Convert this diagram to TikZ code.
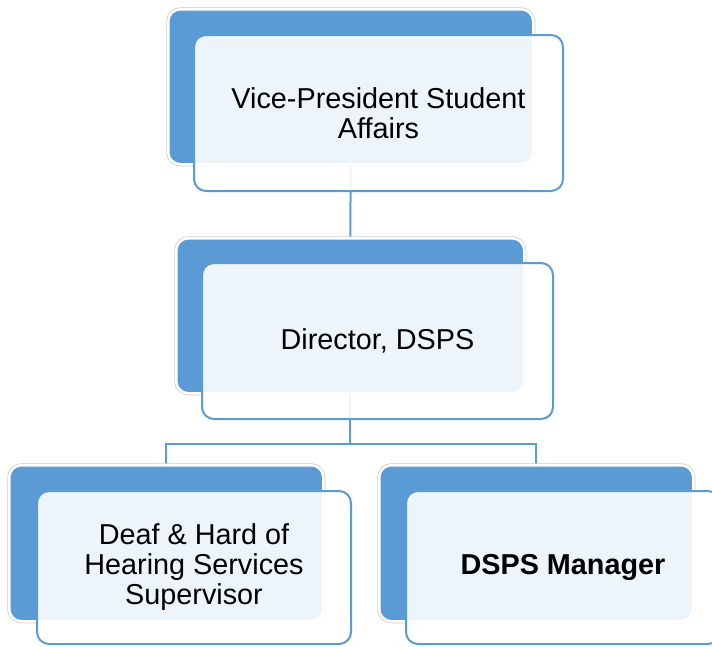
\documentclass[tikz,border=0pt]{standalone}
\usepackage{fontspec}
\setmainfont{Liberation Sans}
\usetikzlibrary{backgrounds}
\definecolor{boxblue}{RGB}{91,155,213}
\begin{document}
\begin{tikzpicture}[x=1pt,y=-1pt,
    backbox/.style={rectangle,rounded corners=12pt,anchor=north west,inner sep=0pt,
      fill=boxblue,preaction={draw=black!20,line width=4pt},draw=white,line width=2.5pt},
    frontbox/.style={rectangle,rounded corners=12pt,anchor=north west,inner sep=0pt,
      fill=white,fill opacity=0.9,text opacity=1,draw=boxblue,line width=2pt,
      align=center,font=\fontsize{28.8}{30}\selectfont},
    link/.style={draw=boxblue,line width=2pt}]
  \useasboundingbox (0,0) rectangle (712,646);

  % 上层
  \node[backbox,minimum width=365pt,minimum height=155pt] (vpBack) at (167,8) {};
  \node[frontbox,minimum width=369pt,minimum height=156pt] (vpFront) at (193,34)
    {Vice-President Student\\Affairs};

  % 中层
  \node[backbox,minimum width=348pt,minimum height=155pt] (dirBack) at (175,237) {};
  \node[frontbox,minimum width=351pt,minimum height=156pt] (dirFront) at (201,262)
    {Director, DSPS};

  % 下层
  \node[backbox,minimum width=314pt,minimum height=156pt] (dhhBack) at (8,464) {};
  \node[frontbox,minimum width=314pt,minimum height=153pt] (dhhFront) at (36,490)
    {Deaf \& Hard of\\Hearing Services\\Supervisor};
  \node[backbox,minimum width=314pt,minimum height=156pt] (mgrBack) at (378,464) {};
  \node[frontbox,minimum width=314pt,minimum height=153pt] (mgrFront) at (405,490)
    {\textbf{DSPS Manager}};

  \begin{scope}[on background layer]
    \draw[link] (vpBack.south) -- (dirBack.north);
    \draw[link] (dirBack.south) -- ++(0,49) coordinate (split) -| (dhhBack.north);
    \draw[link] (split) -| (mgrBack.north);
  \end{scope}
\end{tikzpicture}
\end{document}
